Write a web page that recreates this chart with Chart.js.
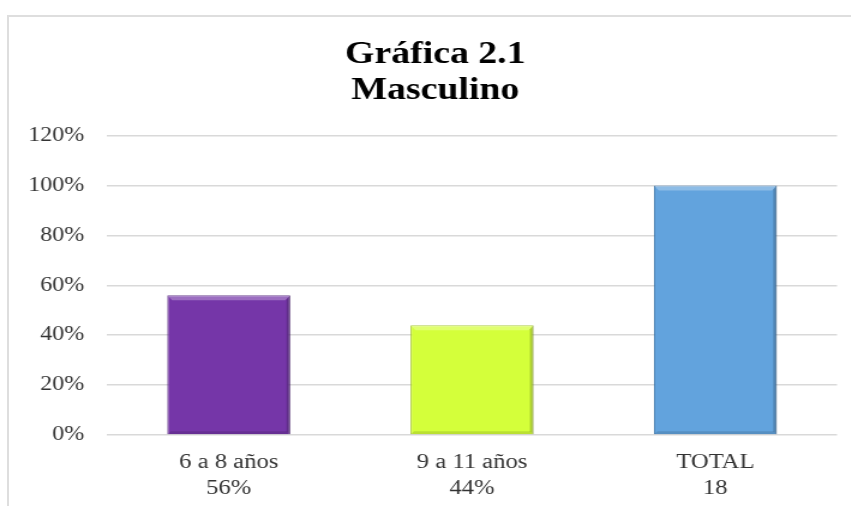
<!DOCTYPE html>
<html>
<head>
<meta charset="utf-8">
<script src="https://cdn.jsdelivr.net/npm/chart.js@4"></script>
<style>
  html, body { margin: 0; padding: 0; background: #ffffff; }
  #wrap { position: relative; width: 851px; height: 506px; overflow: hidden; }
  #frame { position: absolute; left: 7px; top: 15px; width: 900px; height: 600px;
           border-left: 2px solid #dedede; border-top: 2px solid #dedede; box-sizing: border-box; }
  #stretch { position: absolute; left: 0; top: 0; width: 709px; height: 506px;
             transform: scaleX(1.2); transform-origin: 0 0; }
</style>
</head>
<body>
<div id="wrap">
  <div id="frame"></div>
  <div id="stretch"><canvas id="c" width="709" height="506"></canvas></div>
</div>
<script>
const categories = ["6 a 8 años", "9 a 11 años", "TOTAL"];
const subLabels = ["56%", "44%", "18"];
const values = [56, 44, 100];
const barColors = ["#7536A8", "#D4FF3A", "#62A3DD"];
const borderColors = ["#4E1F78", "#9DBF1E", "#3C74A8"];
const yTicks = [0, 20, 40, 60, 80, 100, 120];
const titleLines = ["Gráfica 2.1", "Masculino"];

const labels = categories.map((c, i) => [c, subLabels[i]]);
const serif = '"Liberation Serif", "Times New Roman", serif';

const titleShift = {
  id: 'titleShift',
  afterLayout(chart) {
    const t = chart.titleBlock;
    if (t) { t.left += 14; t.right += 14; }
  }
};

const bevel = {
  id: 'bevel',
  afterDatasetsDraw(chart) {
    const ctx = chart.ctx;
    const meta = chart.getDatasetMeta(0);
    meta.data.forEach((bar) => {
      const left = bar.x - bar.width / 2;
      const right = bar.x + bar.width / 2;
      const top = bar.y;
      const bottom = bar.base;
      ctx.save();
      ctx.fillStyle = 'rgba(255,255,255,0.28)';
      ctx.beginPath();
      ctx.moveTo(left, top);
      ctx.lineTo(right, top);
      ctx.lineTo(right - 4, top + 5);
      ctx.lineTo(left + 4, top + 5);
      ctx.closePath();
      ctx.fill();
      ctx.fillStyle = 'rgba(0,0,0,0.18)';
      ctx.beginPath();
      ctx.moveTo(right, top);
      ctx.lineTo(right, bottom);
      ctx.lineTo(right - 3, bottom - 3);
      ctx.lineTo(right - 3, top + 4);
      ctx.closePath();
      ctx.fill();
      ctx.fillStyle = 'rgba(0,0,0,0.12)';
      ctx.beginPath();
      ctx.moveTo(left, bottom);
      ctx.lineTo(right, bottom);
      ctx.lineTo(right - 3, bottom - 3);
      ctx.lineTo(left + 3, bottom - 3);
      ctx.closePath();
      ctx.fill();
      ctx.restore();
    });
  }
};

new Chart(document.getElementById('c'), {
  type: 'bar',
  data: {
    labels: labels,
    datasets: [{
      data: values,
      backgroundColor: barColors,
      borderColor: borderColors,
      borderWidth: 1,
      barPercentage: 0.505,
      categoryPercentage: 1.0
    }]
  },
  options: {
    responsive: false,
    animation: false,
    devicePixelRatio: 1,
    layout: { padding: { left: 0, right: 11.5, top: 0, bottom: 0 } },
    plugins: {
      legend: { display: false },
      tooltip: { enabled: false },
      title: {
        display: true,
        text: titleLines,
        color: '#000000',
        font: { family: serif, size: 31.5, weight: 'bold', lineHeight: 1.17 },
        padding: { top: 36, bottom: 26 }
      }
    },
    scales: {
      x: {
        grid: { display: false, drawTicks: false },
        border: { display: false },
        ticks: {
          color: '#333333',
          font: { family: serif, size: 20.5, lineHeight: 1.27 },
          padding: 15,
          maxRotation: 0
        },
        afterFit(scale) { scale.height = 71; }
      },
      y: {
        min: 0,
        max: 120,
        afterBuildTicks(scale) { scale.ticks = yTicks.map(v => ({ value: v })); },
        grid: { color: '#d9d9d9', lineWidth: 1.6, drawTicks: false },
        border: { display: false },
        ticks: {
          color: '#333333',
          font: { family: serif, size: 20 },
          padding: 19,
          callback: v => v + '%'
        },
        afterFit(scale) { scale.width = 89.2; }
      }
    }
  },
  plugins: [titleShift, bevel]
});
</script>
</body>
</html>
